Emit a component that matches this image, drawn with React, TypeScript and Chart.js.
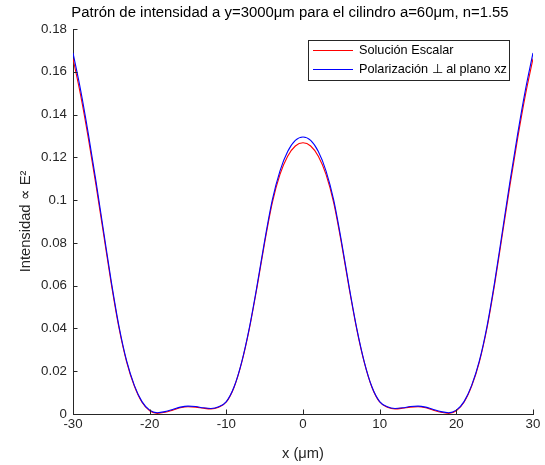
import React, { useEffect, useRef } from "react";
import { Chart, registerables } from "chart.js";

Chart.register(...registerables);

const xPositions = [
  -30, -29, -28, -27, -26, -25, -24, -23, -22, -21, -20, -19, -18, -17, -16, -15,
  -14, -13, -12, -11, -10, -9, -8, -7, -6, -5, -4, -3, -2, -1, 0,
  1, 2, 3, 4, 5, 6, 7, 8, 9, 10, 11, 12, 13, 14, 15, 16, 17, 18, 19, 20,
  21, 22, 23, 24, 25, 26, 27, 28, 29, 30,
];

const scalarValues = [
  0.1662, 0.149, 0.129, 0.107, 0.0838, 0.0607, 0.0402, 0.0243, 0.0131, 0.0055,
  0.0015, 0.0003, 0.0008, 0.0018, 0.0029, 0.0034, 0.0032, 0.0027, 0.0024, 0.0032,
  0.0056, 0.0124, 0.024, 0.0398, 0.0592, 0.0801, 0.0988, 0.112, 0.1205, 0.1253,
  0.1268,
  0.1253, 0.1205, 0.112, 0.0988, 0.0801, 0.0592, 0.0398, 0.024, 0.0124, 0.0056,
  0.0032, 0.0024, 0.0027, 0.0032, 0.0034, 0.0029, 0.0018, 0.0008, 0.0003, 0.0015,
  0.0055, 0.0131, 0.0243, 0.0402, 0.0607, 0.0838, 0.107, 0.129, 0.149, 0.1662,
];

const polarValues = [
  0.1688, 0.1513, 0.131, 0.1088, 0.0852, 0.0618, 0.041, 0.0248, 0.0134, 0.0058,
  0.0018, 0.0006, 0.0011, 0.0021, 0.0032, 0.0037, 0.0035, 0.0029, 0.0026, 0.0034,
  0.0058, 0.0126, 0.0243, 0.0403, 0.0599, 0.0811, 0.1001, 0.1137, 0.1227, 0.1279,
  0.1295,
  0.1279, 0.1227, 0.1137, 0.1001, 0.0811, 0.0599, 0.0403, 0.0243, 0.0126, 0.0058,
  0.0034, 0.0026, 0.0029, 0.0035, 0.0037, 0.0032, 0.0021, 0.0011, 0.0006, 0.0018,
  0.0058, 0.0134, 0.0248, 0.041, 0.0618, 0.0852, 0.1088, 0.131, 0.1513, 0.1688,
];

const seriesLabels = ["Solución Escalar", "Polarización ⊥ al plano xz"];
const seriesColors = ["#ff0000", "#0000ff"];
const titleText = "Patrón de intensidad a y=3000μm para el cilindro a=60μm, n=1.55";
const xTitle = "x (μm)";
const yTitle = "Intensidad ∝ E²";

const FONT = "'Liberation Sans', Arial, Helvetica, sans-serif";
const AXIS_COLOR = "#262626";

const decorPlugin = {
  id: "decor",
  afterDraw(chart: any) {
    const ctx = chart.ctx as CanvasRenderingContext2D;
    const area = chart.chartArea;
    const xs = chart.scales.x;
    const ys = chart.scales.y;
    ctx.save();
    // inward ticks
    ctx.strokeStyle = AXIS_COLOR;
    ctx.lineWidth = 1;
    const tl = 4.5;
    ctx.beginPath();
    xs.ticks.forEach((t: any) => {
      const px = Math.round(xs.getPixelForValue(t.value)) + 0.5;
      ctx.moveTo(px, area.bottom);
      ctx.lineTo(px, area.bottom - tl);
    });
    ys.ticks.forEach((t: any) => {
      const py = Math.round(ys.getPixelForValue(t.value)) + 0.5;
      ctx.moveTo(area.left, py);
      ctx.lineTo(area.left + tl, py);
    });
    ctx.stroke();

    // title
    ctx.fillStyle = "#000000";
    ctx.font = `14.9px ${FONT}`;
    ctx.textAlign = "center";
    ctx.textBaseline = "alphabetic";
    ctx.fillText(titleText, 290, 17);

    // legend
    const bx = 308.5, by = 40.5, bw = 201, bh = 40;
    ctx.fillStyle = "#ffffff";
    ctx.fillRect(bx, by, bw, bh);
    ctx.strokeStyle = AXIS_COLOR;
    ctx.lineWidth = 1;
    ctx.strokeRect(bx, by, bw, bh);
    ctx.font = `12.7px ${FONT}`;
    ctx.textAlign = "left";
    ctx.textBaseline = "middle";
    const rows = [50.5, 69.5];
    chart.data.datasets.forEach((ds: any, i: number) => {
      const y = rows[i];
      ctx.strokeStyle = ds.borderColor;
      ctx.beginPath();
      ctx.moveTo(313, y);
      ctx.lineTo(353, y);
      ctx.stroke();
      ctx.fillStyle = "#000000";
      ctx.fillText(ds.label, 359, y);
    });
    ctx.restore();
  },
};

export default function App() {
  const ref = useRef<HTMLCanvasElement | null>(null);
  useEffect(() => {
    if (!ref.current) return;
    const chart = new Chart(ref.current, {
      type: "line",
      data: {
        datasets: [
          {
            label: seriesLabels[0],
            data: xPositions.map((x, i) => ({ x, y: scalarValues[i] })),
            borderColor: seriesColors[0],
            borderWidth: 1.1,
            pointRadius: 0,
            fill: false,
            cubicInterpolationMode: "monotone",
            order: 2,
          },
          {
            label: seriesLabels[1],
            data: xPositions.map((x, i) => ({ x, y: polarValues[i] })),
            borderColor: seriesColors[1],
            borderWidth: 1.1,
            pointRadius: 0,
            fill: false,
            cubicInterpolationMode: "monotone",
            order: 1,
          },
        ],
      },
      options: {
        responsive: false,
        animation: false,
        layout: { padding: { left: 0, right: 12, top: 29, bottom: 0 } },
        plugins: {
          legend: { display: false },
          title: { display: false },
          tooltip: { enabled: false },
        },
        scales: {
          x: {
            type: "linear",
            min: -30,
            max: 30,
            afterFit: (s: any) => { s.height = 51; },
            grid: { display: false, drawTicks: false },
            border: { display: true, color: AXIS_COLOR, width: 1 },
            ticks: {
              stepSize: 10,
              padding: 2,
              color: AXIS_COLOR,
              font: { family: FONT, size: 13.3 },
              maxRotation: 0,
              callback: (v: any) => String(v),
            },
            title: {
              display: true,
              text: xTitle,
              color: AXIS_COLOR,
              font: { family: FONT, size: 14.7 },
              padding: { top: 0, bottom: 2 },
            },
          },
          y: {
            type: "linear",
            min: 0,
            max: 0.18,
            afterFit: (s: any) => { s.width = 73; },
            grid: { display: false, drawTicks: false },
            border: { display: true, color: AXIS_COLOR, width: 1 },
            ticks: {
              stepSize: 0.02,
              padding: 6,
              color: AXIS_COLOR,
              font: { family: FONT, size: 13.3 },
              callback: (v: any) => String(Number(Number(v).toFixed(2))),
            },
            title: {
              display: true,
              text: yTitle,
              color: AXIS_COLOR,
              font: { family: FONT, size: 14.7 },
              padding: { top: 17, bottom: 0 },
            },
          },
        },
      },
      plugins: [decorPlugin],
    });
    return () => chart.destroy();
  }, []);
  return (
    <div style={{ position: "fixed", left: 0, top: 0, width: 545, height: 465, background: "#ffffff" }}>
      <canvas ref={ref} width={545} height={465} />
    </div>
  );
}
